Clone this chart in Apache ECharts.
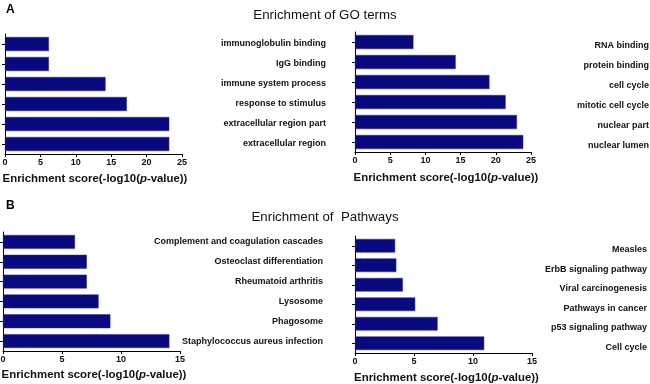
<!DOCTYPE html>
<html><head><meta charset="utf-8">
<script src="https://cdn.jsdelivr.net/npm/echarts@6/dist/echarts.min.js"></script>
<style>html,body{margin:0;padding:0;background:#fff}#c{width:650px;height:384px}</style>
</head><body><div id="c"></div>
<script>
// Panel A (GO terms), categories listed bottom-to-top
var goLeftCats = ['extracellular region','extracellular region part','response to stimulus','immune system process','IgG binding','immunoglobulin binding'];
var goLeftVals = [23.2, 23.2, 17.2, 14.2, 6.2, 6.2];
var goRightCats = ['nuclear lumen','nuclear part','mitotic cell cycle','cell cycle','protein binding','RNA binding'];
var goRightVals = [23.9, 23.0, 21.4, 19.1, 14.3, 8.3];
// Panel B (Pathways)
var pwLeftCats = ['Staphylococcus aureus infection','Phagosome','Lysosome','Rheumatoid arthritis','Osteoclast differentiation','Complement and coagulation cascades'];
var pwLeftVals = [14.1, 9.1, 8.1, 7.1, 7.1, 6.1];
var pwRightCats = ['Cell cycle','p53 signaling pathway','Pathways in cancer','Viral carcinogenesis','ErbB signaling pathway','Measles'];
var pwRightVals = [10.95, 7.0, 5.1, 4.05, 3.5, 3.4];
var goMax = 25, pwMax = 15, tickStep = 5;
var titleA = 'Enrichment of GO terms';
var titleB = 'Enrichment of  Pathways';

var FONT = '"Liberation Sans", Arial, sans-serif';
var BAR = '#0a0a80';
var chart = echarts.init(document.getElementById('c'), null, {renderer:'canvas'});

var panels = [
  {cats:goLeftCats, vals:goLeftVals, max:goMax, gap:19, padL:3, lblMargin:144, shift:0,
   g:{left:5, top:34, width:177, height:120}},
  {cats:goRightCats, vals:goRightVals, max:goMax, gap:20, padL:6, lblMargin:118, shift:4,
   g:{left:355, top:32, width:176, height:120}},
  {cats:pwLeftCats, vals:pwLeftVals, max:pwMax, gap:18, padL:5, lblMargin:143, shift:0,
   g:{left:3, top:232, width:177, height:119}},
  {cats:pwRightCats, vals:pwRightVals, max:pwMax, gap:19, padL:6, lblMargin:115, shift:4,
   g:{left:355, top:236, width:177, height:117}}
];
var grids = [], xAxes = [], yAxes = [], series = [];
panels.forEach(function(p, i){
  grids.push({left:p.g.left, top:p.g.top, width:p.g.width, height:p.g.height, outerBoundsMode:'none', containLabel:false});
});
panels.forEach(function(p, i){
  grids.push({left:p.g.left, top:p.g.top + p.shift, width:p.g.width, height:p.g.height, outerBoundsMode:'none', containLabel:false});
});
panels.forEach(function(p, i){
  xAxes.push({
    type:'value', gridIndex:i, min:0, max:p.max, interval:tickStep,
    axisLine:{show:true, lineStyle:{color:'#000', width:1}},
    axisTick:{show:true, length:3, lineStyle:{color:'#000'}},
    splitLine:{show:false},
    axisLabel:{fontFamily:FONT, fontSize:9, fontWeight:'bold', color:'#111', margin:4},
    name:'{b|Enrichment score(-log10(}{i|p}{b|-value))}',
    nameLocation:'middle', nameGap:p.gap,
    nameTextStyle:{padding:[0,0,0,p.padL], rich:{
      b:{fontFamily:FONT, fontSize:11.4, fontWeight:'bold', color:'#111'},
      i:{fontFamily:FONT, fontSize:11.4, fontWeight:'bold', fontStyle:'italic', color:'#111'}
    }}
  });
  yAxes.push({
    type:'category', gridIndex:i, data:p.cats,
    axisLine:{show:true, lineStyle:{color:'#000', width:1}},
    axisTick:{show:true, length:3, alignWithLabel:true, lineStyle:{color:'#000'}},
    axisLabel:{show:false}
  });
  series.push({
    type:'bar', xAxisIndex:i, yAxisIndex:i, data:p.vals,
    barCategoryGap:'30%',
    itemStyle:{color:BAR, borderColor:'#2a2a90', borderWidth:0.5},
    silent:true
  });
});
// label-only axes in companion grids
panels.forEach(function(p, i){
  xAxes.push({type:'value', gridIndex:4+i, min:0, max:p.max, show:false});
  yAxes.push({
    type:'category', gridIndex:4+i, data:p.cats, position:'right',
    axisLine:{show:false}, axisTick:{show:false}, splitLine:{show:false},
    axisLabel:{fontFamily:FONT, fontSize:9, fontWeight:'bold', color:'#111',
      align:'right', margin:p.lblMargin}
  });
});

chart.setOption({
  animation:false,
  backgroundColor:'#fff',
  title:[
    {text:'A', left:1, top:-1, textStyle:{fontFamily:FONT, fontSize:12, fontWeight:'bold', color:'#000'}},
    {text:titleA, left:'center', top:4, textStyle:{fontFamily:FONT, fontSize:13.3, fontWeight:'normal', color:'#111'}},
    {text:'B', left:1, top:195, textStyle:{fontFamily:FONT, fontSize:12, fontWeight:'bold', color:'#000'}},
    {text:titleB, left:'center', top:206, textStyle:{fontFamily:FONT, fontSize:13.3, fontWeight:'normal', color:'#111'}}
  ],
  grid:grids,
  xAxis:xAxes,
  yAxis:yAxes,
  series:series
});
</script></body></html>
